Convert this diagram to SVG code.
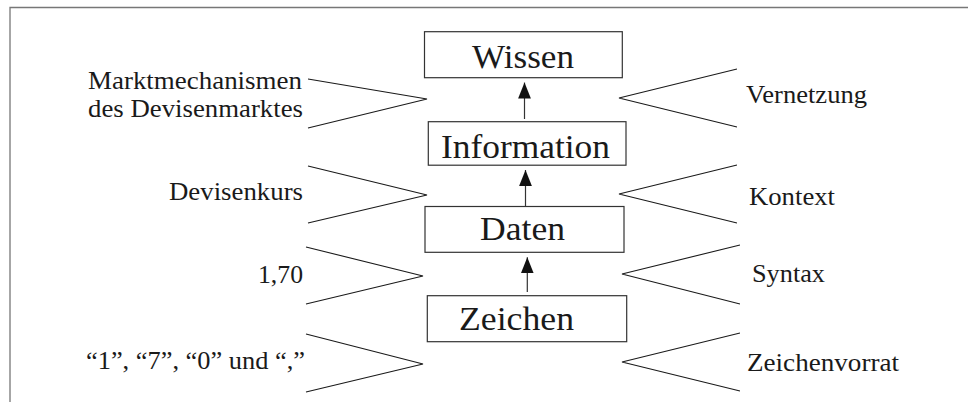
<svg xmlns="http://www.w3.org/2000/svg" width="968" height="402" viewBox="0 0 968 402">
<style>
.lbl{font-size:25px}
.big{font-size:34px}
.box{fill:#fff;stroke:#333;stroke-width:1.2}
.chev{fill:none;stroke:#1a1a1a;stroke-width:1.1}
.arr{stroke:#333;stroke-width:1.2;fill:none}
</style>
<defs>
<marker id="ah" markerUnits="userSpaceOnUse" markerWidth="16" markerHeight="14" viewBox="0 0 15 12" refX="15" refY="6" orient="auto">
<path d="M0,0 L15,6 L0,12 Z" fill="#111"/>
</marker>
</defs>
<rect width="968" height="402" fill="#fff"/>
<path d="M10,402 V7.5 H968" fill="none" stroke="#777" stroke-width="1.3"/>

<g font-family="'Liberation Serif', 'Times New Roman', 'DejaVu Serif', serif" fill="#1a1a1a">
<g id="wissen">
<rect class="box" x="424.5" y="31.7" width="197.8" height="46"/>
<text class="big" x="472" y="67.7" textLength="102" lengthAdjust="spacingAndGlyphs">Wissen</text>
</g>
<g id="information">
<rect class="box" x="428.3" y="121.7" width="197.7" height="43.5"/>
<text class="big" x="441" y="157.7" textLength="169" lengthAdjust="spacingAndGlyphs">Information</text>
</g>
<g id="daten">
<rect class="box" x="425" y="206.5" width="199" height="45.8"/>
<text class="big" x="480" y="240" textLength="85" lengthAdjust="spacingAndGlyphs">Daten</text>
</g>
<g id="zeichen">
<rect class="box" x="427.3" y="295.7" width="199.4" height="46"/>
<text class="big" x="459" y="330" textLength="115" lengthAdjust="spacingAndGlyphs">Zeichen</text>
</g>

<g id="connectors">
<line class="arr" x1="524.5" y1="119" x2="524.5" y2="82.5" marker-end="url(#ah)"/>
<line class="arr" x1="525.5" y1="206.5" x2="525.5" y2="170" marker-end="url(#ah)"/>
<line class="arr" x1="527.3" y1="292" x2="527.3" y2="257.3" marker-end="url(#ah)"/>
</g>

<g id="chevrons">
<polyline class="chev" points="308,79 427,99 308,128"/>
<polyline class="chev" points="308,166 427,195 308,223"/>
<polyline class="chev" points="306,247 423,276 306,304"/>
<polyline class="chev" points="306,334 423,364 306,392"/>
<polyline class="chev" points="737,69 619,98 737,127"/>
<polyline class="chev" points="737,165 619,194 737,223"/>
<polyline class="chev" points="740,245 622,274 740,304"/>
<polyline class="chev" points="740,333 622,362 740,391"/>
</g>

<g id="labels">
<text class="lbl" x="88" y="89.3" textLength="214" lengthAdjust="spacingAndGlyphs">Marktmechanismen</text>
<text class="lbl" x="88" y="116.7" textLength="215" lengthAdjust="spacingAndGlyphs">des Devisenmarktes</text>
<text class="lbl" x="169" y="200" textLength="134" lengthAdjust="spacingAndGlyphs">Devisenkurs</text>
<text class="lbl" x="258" y="283.3" textLength="45" lengthAdjust="spacingAndGlyphs">1,70</text>
<text class="lbl" x="86" y="369.3" textLength="219" lengthAdjust="spacingAndGlyphs">“1”, “7”, “0” und “,”</text>
<text class="lbl" x="746" y="103.3" textLength="121" lengthAdjust="spacingAndGlyphs">Vernetzung</text>
<text class="lbl" x="749" y="205" textLength="86" lengthAdjust="spacingAndGlyphs">Kontext</text>
<text class="lbl" x="752" y="282" textLength="73" lengthAdjust="spacingAndGlyphs">Syntax</text>
<text class="lbl" x="747" y="371" textLength="152" lengthAdjust="spacingAndGlyphs">Zeichenvorrat</text>
</g>
</g>
</svg>
